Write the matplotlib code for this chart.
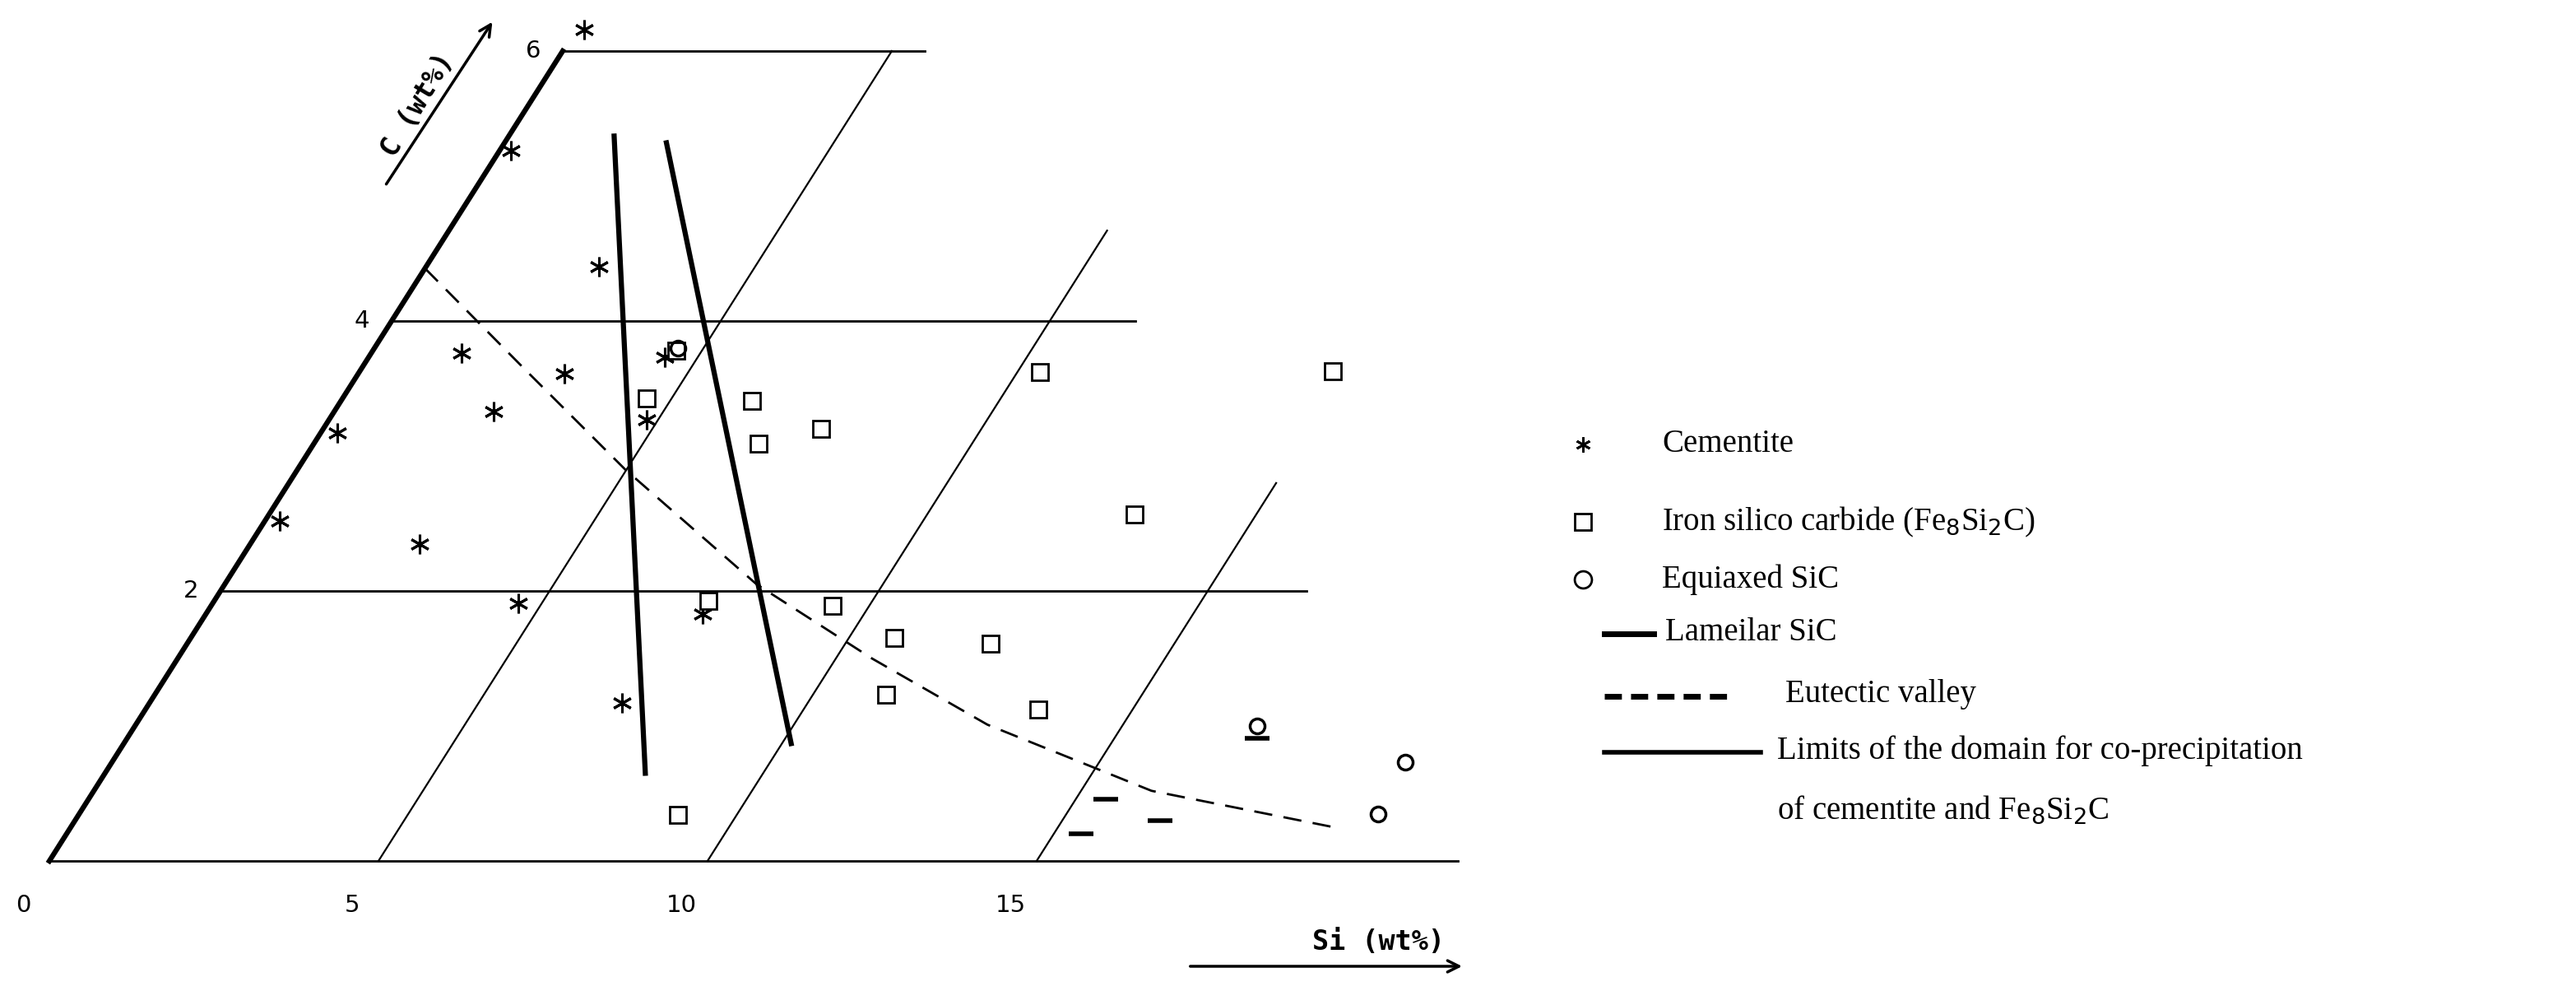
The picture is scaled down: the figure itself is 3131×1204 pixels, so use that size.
import matplotlib
matplotlib.use("Agg")
import matplotlib.pyplot as plt
import matplotlib.transforms as mtransforms
import numpy as np

# Data in (Si wt%, C wt%)
star_si = [0.12, 0.17, 2.63, 1.37, 3.13, 4.5, 2.42, 4.82, 0.25, 0.22, 2.57, 4.64, 7.55, 7.18]
star_c  = [6.16, 5.26, 4.40, 3.76, 3.61, 3.73, 3.33, 3.27, 3.17, 2.52, 2.35, 1.91, 1.83, 1.17]
sq_si = [4.61, 4.62, 6.24, 6.76, 7.57, 10.34, 14.78, 13.15, 7.5, 9.44, 10.69, 12.21, 11.12, 13.57, 9.11]
sq_c  = [3.78, 3.43, 3.41, 3.09, 3.20, 3.62, 3.63, 2.57, 1.93, 1.89, 1.65, 1.61, 1.23, 1.12, 0.34]
circ_si = [4.61, 17.05, 19.65, 19.74]
circ_c  = [3.80, 1.00, 0.73, 0.35]
dash_si = [15.45, 16.48, 15.42, 17.17]
dash_c  = [0.46, 0.30, 0.20, 0.91]
lam1_si = [1.6, 8.21]; lam1_c = [5.37, 0.65]
lam2_si = [2.46, 10.14]; lam2_c = [5.32, 0.87]
eut_si = [0.0, 2.53, 4.98, 8.08, 10.55, 12.94, 16.07, 19.31]
eut_c  = [4.39, 3.63, 2.90, 2.05, 1.50, 1.01, 0.52, 0.24]
# grid lines: constant C (C, Si_end), constant Si (Si, C_end)
hgrid = [(0, 21.4), (2, 16.5), (4, 11.3), (6, 5.5)]
vgrid = [(5, 6.0), (10, 4.67), (15, 2.8)]
si_ticks = [0, 5, 10, 15]
c_ticks = [2, 4, 6]

fig = plt.figure(figsize=(31.31, 12.04), dpi=100)
ax = fig.add_axes([0, 0, 1, 1])
ax.set_xlim(-0.75, 38.39)
ax.set_ylim(-0.963, 6.378)
ax.axis('off')
tr = mtransforms.Affine2D(np.array([[1, 1.3, 0], [0, 1, 0], [0, 0, 1]])) + ax.transData

k = 'black'
for c, se in hgrid:
    ax.plot([0, se], [c, c], color=k, lw=2.0, transform=tr)
for s, ce in vgrid:
    ax.plot([s, s], [0, ce], color=k, lw=1.6, transform=tr)
ax.plot([0, 0], [0, 6.0], color=k, lw=4.5, transform=tr)
ax.plot(lam1_si, lam1_c, color=k, lw=4.5, transform=tr)
ax.plot(lam2_si, lam2_c, color=k, lw=4.5, transform=tr)
ax.plot(eut_si, eut_c, color=k, lw=2, ls=(0, (8, 5)), transform=tr)

ax.plot(star_si, star_c, ls='none', marker=(6, 2, 0), ms=17, mec=k, mew=2.2, transform=tr)
ax.plot(sq_si, sq_c, ls='none', marker='s', ms=15, mfc='white', mec=k, mew=2, transform=tr)
ax.plot(circ_si, circ_c, ls='none', marker='o', ms=13, mfc='none', mec=k, mew=2.5, transform=tr)
ax.plot(dash_si, dash_c, ls='none', marker='_', ms=22, mew=4, color=k, transform=tr)

for s in si_ticks:
    ax.text(s - 0.4, -0.33, str(s), fontsize=21, ha='center', va='center')
for c in c_ticks:
    ax.text(-0.45, c, str(c), transform=tr, fontsize=21, ha='center', va='center')

# axis titles
ax.text(20.2, -0.6, 'Si (wt%)', fontsize=24, family='DejaVu Sans Mono', fontweight='bold', ha='center', va='center')
ax.annotate('', xy=(21.5, -0.78), xytext=(17.3, -0.78),
            arrowprops=dict(arrowstyle='->', lw=2.5, color=k, mutation_scale=25))
ax.text(5.6, 5.6, 'C (wt%)', fontsize=24, family='DejaVu Sans Mono', fontweight='bold',
        rotation=59, ha='center', va='center', rotation_mode='anchor')
ax.annotate('', xy=(6.75, 6.23), xytext=(5.1, 5.0),
            arrowprops=dict(arrowstyle='->', lw=2.5, color=k, mutation_scale=25))

# legend (figure pixel coords in half scale)
W, H = 1565.5, 602
def fx(p): return p / W
def fy(p): return 1 - p / H
ser = 'Liberation Serif'
fs = 28
ax.plot([fx(962)], [fy(270)], transform=fig.transFigure, marker=(6, 2, 0), ms=13, mec=k, mew=2)
fig.text(fx(1010), fy(270), 'Cementite', fontsize=fs, family=ser, va='center')
ax.plot([fx(962)], [fy(317)], transform=fig.transFigure, marker='s', ms=15, mfc='none', mec=k, mew=2)
fig.text(fx(1010), fy(317), 'Iron silico carbide (Fe$_8$Si$_2$C)', fontsize=fs, family=ser, va='center')
ax.plot([fx(962)], [fy(352)], transform=fig.transFigure, marker='o', ms=15, mfc='none', mec=k, mew=2)
fig.text(fx(1010), fy(352), 'Equiaxed SiC', fontsize=fs, family=ser, va='center')
ax.plot([fx(975), fx(1005)], [fy(385), fy(385)], transform=fig.transFigure, color=k, lw=5)
fig.text(fx(1012), fy(384), 'Lameilar SiC', fontsize=fs, family=ser, va='center')
ax.plot([fx(975), fx(1050)], [fy(423), fy(423)], transform=fig.transFigure, color=k, lw=5, ls=(0, (3, 1.6)))
fig.text(fx(1085), fy(422), 'Eutectic valley', fontsize=fs, family=ser, va='center')
ax.plot([fx(975), fx(1070)], [fy(457), fy(457)], transform=fig.transFigure, color=k, lw=4)
fig.text(fx(1080), fy(456), 'Limits of the domain for co-precipitation', fontsize=fs, family=ser, va='center')
fig.text(fx(1080), fy(492), 'of cementite and Fe$_8$Si$_2$C', fontsize=fs, family=ser, va='center')

fig.savefig('out.png', dpi=100)
